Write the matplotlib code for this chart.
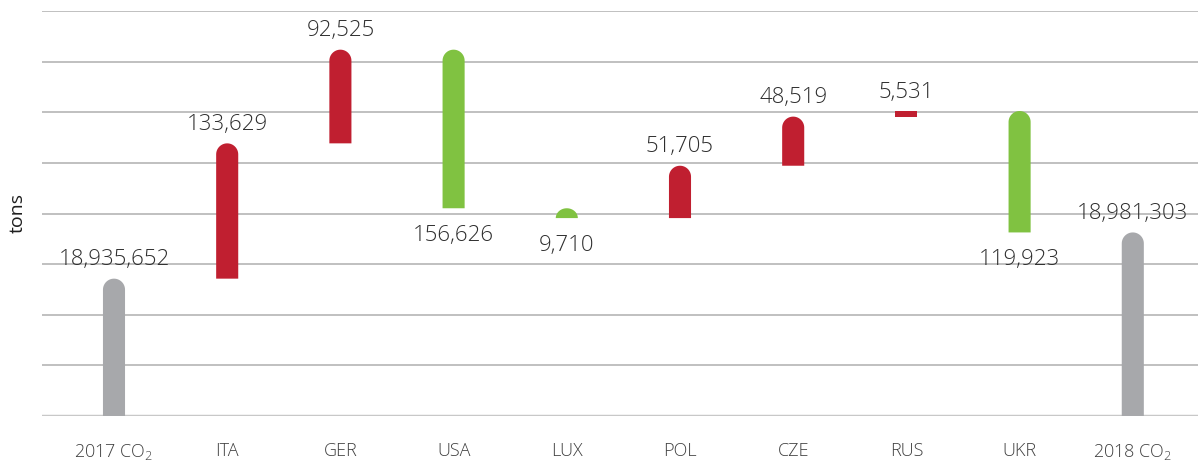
import matplotlib
matplotlib.use("Agg")
import matplotlib.pyplot as plt
import numpy as np
from matplotlib.patches import Polygon

# data
categories = ["2017 CO$_\\mathregular{2}$", "ITA", "GER", "USA", "LUX", "POL", "CZE", "RUS", "UKR", "2018 CO$_\\mathregular{2}$"]
start_total = 18935652
end_total = 18981303
changes = [133629, 92525, -156626, -9710, 51705, 48519, 5531, -119923]
labels = ["18,935,652", "133,629", "92,525", "156,626", "9,710", "51,705", "48,519", "5,531", "119,923", "18,981,303"]

base = 18800000
top = 19200000

GREY = "#a7a8ab"
RED = "#c01f30"
GREEN = "#80c241"
TEXT = "#2e2e2e"

plt.rcParams["font.family"] = ["Open Sans", "DejaVu Sans"]
plt.rcParams["font.weight"] = "light"
plt.rcParams["mathtext.fontset"] = "custom"
plt.rcParams["mathtext.rm"] = "Open Sans:light"

fig = plt.figure(figsize=(11.98, 4.61), dpi=100)
ax = fig.add_axes([42 / 1198, 45 / 461, 1 - 42 / 1198, 405 / 461])
ax.set_xlim(-0.636, 9.576)
ax.set_ylim(base, top)

width = 0.195
# radius of the round cap: half the bar width, converted to y units
px_per_x = 1156 / (9.576 + 0.636)
px_per_y = 405 / (top - base)
r_px = width / 2 * px_per_x
r_y = r_px / px_per_y


def rounded_bar(x, y0, y1, color):
    h = y1 - y0
    half = width / 2
    if h < 0.6 * r_y:
        pts = [(x - half, y0), (x + half, y0), (x + half, y1), (x - half, y1)]
    else:
        ry = min(r_y, h)
        t = np.linspace(0, np.pi, 40)
        arc = [(x + half * np.cos(a), y1 - ry + ry * np.sin(a)) for a in t]
        pts = [(x - half, y0), (x + half, y0)] + arc + [(x - half, y0)]
    ax.add_patch(Polygon(pts, closed=True, facecolor=color, edgecolor="none", zorder=3))


def label_above(x, y, s):
    ax.annotate(s, (x, y), xytext=(0, 6), textcoords="offset points",
                ha="center", va="bottom", fontsize=16, color=TEXT)


# totals + steps
rounded_bar(0, base, start_total, GREY)
label_above(0, start_total, labels[0])

level = start_total
for i, d in enumerate(changes):
    x = i + 1
    lo, hi = sorted([level, level + d])
    rounded_bar(x, lo, hi, RED if d > 0 else GREEN)
    if d > 0:
        label_above(x, hi, labels[x])
    else:
        ax.annotate(labels[x], (x, lo), xytext=(0, -12), textcoords="offset points",
                    ha="center", va="top", fontsize=16, color=TEXT)
    level += d

rounded_bar(9, base, end_total, GREY)
label_above(9, end_total, labels[9])

ax.set_yticks(np.arange(base, top + 1, 50000))
ax.set_yticklabels([])
ax.grid(axis="y", color="#b5b5b5", linewidth=1.2, zorder=0)
ax.set_axisbelow(True)
ax.tick_params(axis="y", length=0)
ax.tick_params(axis="x", length=0, pad=19, labelsize=13, labelcolor="#404040")
ax.set_xticks(range(len(categories)))
ax.set_xticklabels(categories)
for s in ax.spines.values():
    s.set_visible(False)
ax.axhline(base, color="#c8c8c8", linewidth=2.5, zorder=1)

fig.text(18 / 1198, 1 - 213 / 461, "tons", rotation=90, ha="center", va="center",
         fontsize=14, color="#1e1e1e", fontweight="normal")

fig.savefig("out.png", dpi=100)
